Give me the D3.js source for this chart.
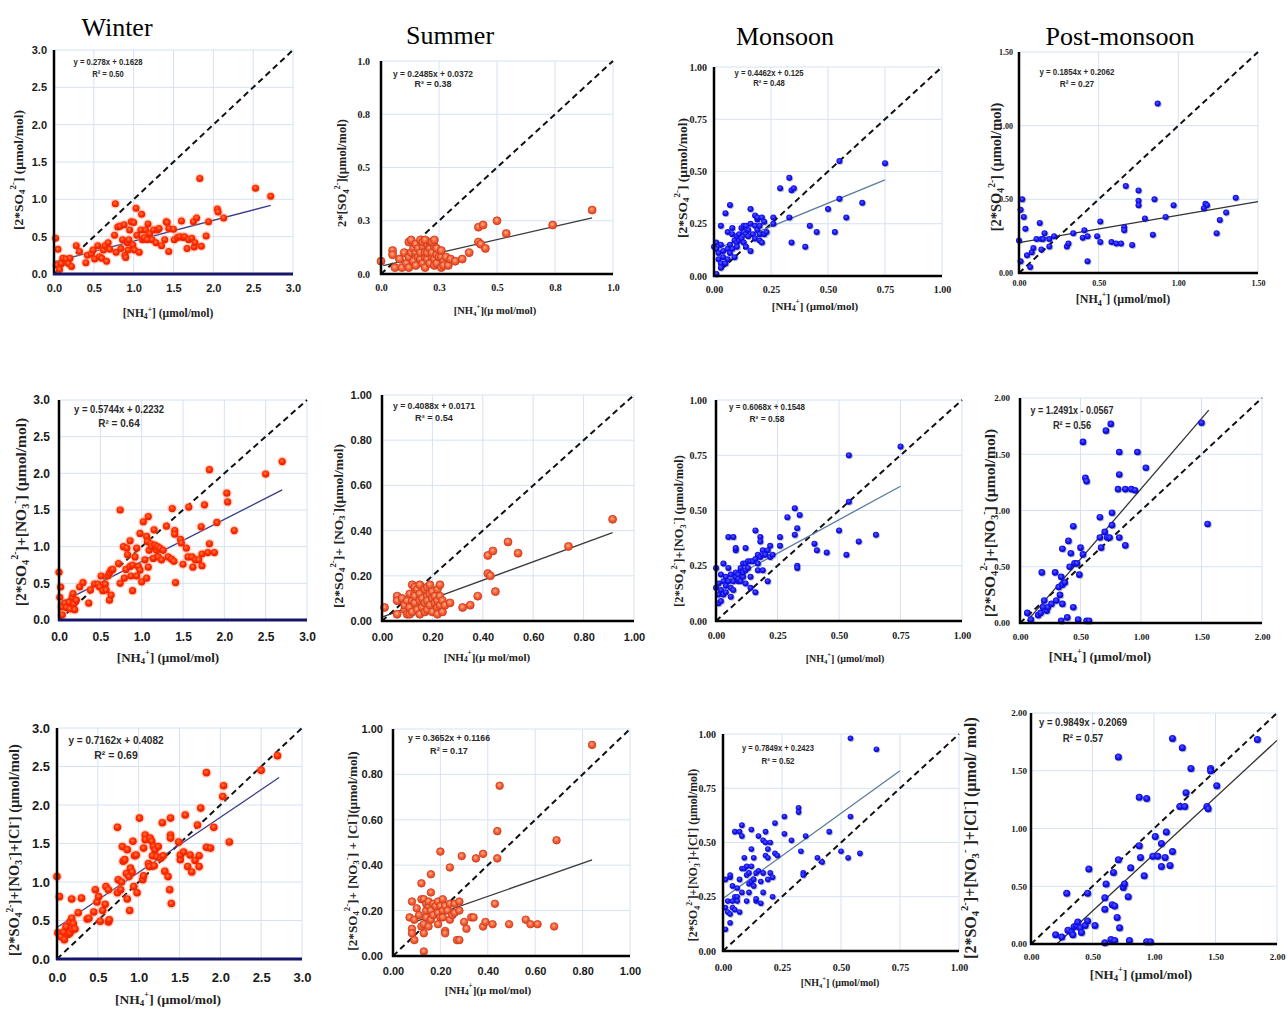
<!DOCTYPE html>
<html>
<head>
<meta charset="utf-8">
<script src="https://cdn.jsdelivr.net/npm/d3@7"></script>
<style>
  body { margin: 0; background: #fff; }
  svg { display: block; }
</style>
</head>
<body>
<div id="chart"></div>
<script>
// ---- data ----
const seasons = ["Winter", "Summer", "Monsoon", "Post-monsoon"];

const winterSO4 = [[0.02,0.48],[0.05,0.33],[0.03,0.12],[0.07,0.06],[0.09,0.14],[0.11,0.21],[0.15,0.2],[0.18,0.14],[0.2,0.21],[0.22,0.1],[0.28,0.38],[0.32,0.3],[0.4,0.15],[0.42,0.25],[0.47,0.27],[0.49,0.32],[0.51,0.2],[0.55,0.38],[0.57,0.23],[0.6,0.21],[0.62,0.32],[0.64,0.38],[0.66,0.17],[0.68,0.42],[0.7,0.33],[0.76,0.52],[0.77,0.94],[0.78,0.29],[0.8,0.63],[0.83,0.64],[0.84,0.34],[0.86,0.46],[0.88,0.66],[0.89,0.25],[0.9,0.22],[0.92,0.42],[0.93,0.32],[0.94,0.46],[0.95,0.59],[0.97,0.7],[0.99,0.39],[1.0,0.69],[1.01,0.32],[1.03,0.88],[1.04,0.52],[1.07,0.29],[1.09,0.59],[1.1,0.8],[1.11,0.46],[1.13,0.49],[1.15,0.59],[1.17,0.46],[1.18,0.67],[1.2,0.54],[1.23,0.46],[1.25,0.59],[1.28,0.42],[1.3,0.59],[1.32,0.61],[1.35,0.38],[1.39,0.46],[1.41,0.7],[1.42,0.69],[1.44,0.61],[1.44,0.3],[1.5,0.6],[1.51,0.46],[1.55,0.49],[1.58,0.5],[1.6,0.71],[1.62,0.49],[1.64,0.5],[1.67,0.34],[1.69,0.46],[1.73,0.48],[1.75,0.7],[1.76,0.36],[1.77,0.42],[1.79,0.75],[1.83,1.28],[1.85,0.37],[1.91,0.51],[1.94,0.7],[2.05,0.87],[2.06,0.83],[2.13,0.75],[2.53,1.15],[2.72,1.04]];

const summerSO4 = [[0.0,0.06],[0.05,0.11],[0.05,0.09],[0.06,0.03],[0.08,0.07],[0.09,0.03],[0.1,0.1],[0.11,0.05],[0.12,0.15],[0.12,0.03],[0.12,0.08],[0.13,0.1],[0.13,0.16],[0.14,0.06],[0.14,0.12],[0.15,0.1],[0.15,0.14],[0.15,0.04],[0.16,0.08],[0.16,0.12],[0.17,0.16],[0.17,0.07],[0.17,0.1],[0.18,0.13],[0.18,0.15],[0.18,0.05],[0.19,0.08],[0.19,0.1],[0.19,0.03],[0.2,0.14],[0.2,0.07],[0.2,0.1],[0.21,0.12],[0.21,0.05],[0.21,0.15],[0.22,0.08],[0.22,0.1],[0.23,0.04],[0.23,0.13],[0.23,0.07],[0.24,0.09],[0.24,0.12],[0.24,0.05],[0.25,0.08],[0.19,0.16],[0.22,0.15],[0.23,0.16],[0.26,0.03],[0.26,0.08],[0.26,0.11],[0.27,0.06],[0.27,0.04],[0.28,0.08],[0.29,0.04],[0.3,0.07],[0.32,0.06],[0.35,0.07],[0.38,0.1],[0.42,0.22],[0.42,0.15],[0.43,0.14],[0.44,0.23],[0.45,0.12],[0.5,0.25],[0.54,0.19],[0.74,0.23],[0.91,0.3]];

const monsoonSO4 = [[0.01,0.01],[0.0,0.14],[0.01,0.16],[0.01,0.13],[0.02,0.11],[0.02,0.08],[0.03,0.06],[0.03,0.04],[0.03,0.24],[0.03,0.15],[0.04,0.09],[0.04,0.12],[0.05,0.06],[0.05,0.3],[0.06,0.13],[0.06,0.21],[0.06,0.08],[0.07,0.11],[0.07,0.34],[0.07,0.15],[0.08,0.2],[0.08,0.13],[0.08,0.23],[0.09,0.17],[0.09,0.09],[0.1,0.16],[0.1,0.19],[0.1,0.14],[0.11,0.2],[0.11,0.17],[0.12,0.23],[0.12,0.18],[0.13,0.21],[0.13,0.16],[0.13,0.24],[0.14,0.2],[0.14,0.14],[0.14,0.24],[0.15,0.19],[0.15,0.22],[0.16,0.12],[0.16,0.32],[0.16,0.25],[0.17,0.2],[0.18,0.24],[0.18,0.29],[0.18,0.18],[0.19,0.27],[0.19,0.22],[0.19,0.28],[0.2,0.2],[0.2,0.17],[0.2,0.24],[0.21,0.16],[0.21,0.28],[0.22,0.2],[0.22,0.26],[0.23,0.21],[0.26,0.25],[0.26,0.28],[0.29,0.42],[0.33,0.47],[0.34,0.41],[0.35,0.42],[0.33,0.28],[0.34,0.16],[0.4,0.14],[0.42,0.24],[0.45,0.21],[0.5,0.32],[0.53,0.21],[0.55,0.37],[0.55,0.55],[0.58,0.28],[0.65,0.35],[0.75,0.54]];

const postSO4 = [[0.0,0.22],[0.01,0.43],[0.02,0.5],[0.03,0.38],[0.01,0.08],[0.04,0.3],[0.05,0.12],[0.07,0.04],[0.08,0.14],[0.09,0.17],[0.11,0.23],[0.13,0.34],[0.14,0.16],[0.14,0.23],[0.15,0.23],[0.16,0.27],[0.19,0.18],[0.19,0.23],[0.22,0.25],[0.3,0.18],[0.31,0.2],[0.34,0.27],[0.4,0.24],[0.41,0.29],[0.43,0.25],[0.43,0.08],[0.49,0.25],[0.51,0.35],[0.51,0.21],[0.58,0.21],[0.61,0.2],[0.64,0.2],[0.66,0.31],[0.66,0.29],[0.67,0.59],[0.71,0.19],[0.75,0.56],[0.75,0.49],[0.75,0.46],[0.79,0.37],[0.84,0.26],[0.85,0.5],[0.87,1.15],[0.92,0.38],[0.97,0.46],[1.16,0.44],[1.17,0.47],[1.18,0.46],[1.24,0.27],[1.26,0.36],[1.3,0.41],[1.36,0.51]];

const winterSN = [[0.0,0.65],[0.02,0.45],[0.01,0.31],[0.03,0.18],[0.04,0.07],[0.07,0.23],[0.09,0.17],[0.12,0.24],[0.13,0.15],[0.16,0.31],[0.17,0.36],[0.18,0.22],[0.19,0.14],[0.21,0.27],[0.25,0.45],[0.29,0.51],[0.36,0.23],[0.38,0.41],[0.43,0.49],[0.47,0.49],[0.49,0.45],[0.51,0.6],[0.53,0.4],[0.56,0.49],[0.57,0.41],[0.59,0.6],[0.61,0.64],[0.61,0.27],[0.63,0.68],[0.63,0.34],[0.65,0.69],[0.72,0.77],[0.74,1.5],[0.74,0.5],[0.78,1.0],[0.79,0.57],[0.81,0.69],[0.82,0.98],[0.83,0.89],[0.86,1.08],[0.86,0.73],[0.87,0.6],[0.89,0.4],[0.89,0.75],[0.92,0.86],[0.94,0.98],[0.94,0.6],[0.96,0.73],[0.98,1.18],[0.98,0.68],[1.0,0.52],[1.02,1.34],[1.04,0.82],[1.06,1.14],[1.06,0.57],[1.07,1.07],[1.08,1.41],[1.08,0.72],[1.09,0.95],[1.11,1.04],[1.12,1.0],[1.14,0.84],[1.15,1.23],[1.16,1.02],[1.18,0.95],[1.19,1.0],[1.2,0.86],[1.22,0.98],[1.24,0.82],[1.26,0.95],[1.3,1.28],[1.32,0.86],[1.36,0.83],[1.37,1.52],[1.39,0.8],[1.4,1.22],[1.4,1.17],[1.41,0.51],[1.47,1.1],[1.48,1.05],[1.5,0.76],[1.54,0.98],[1.56,0.86],[1.57,1.54],[1.61,0.86],[1.62,0.72],[1.65,0.82],[1.69,0.82],[1.72,1.27],[1.73,0.9],[1.73,0.74],[1.76,1.57],[1.8,0.92],[1.82,2.05],[1.82,1.04],[1.88,0.92],[1.91,1.33],[2.03,1.73],[2.04,1.61],[2.12,1.22],[2.5,1.99],[2.7,2.16]];

const summerSN = [[0.01,0.06],[0.06,0.11],[0.06,0.09],[0.06,0.03],[0.08,0.1],[0.09,0.05],[0.09,0.07],[0.1,0.03],[0.1,0.09],[0.11,0.12],[0.11,0.03],[0.11,0.06],[0.12,0.16],[0.12,0.09],[0.12,0.04],[0.13,0.12],[0.13,0.15],[0.13,0.08],[0.13,0.11],[0.14,0.05],[0.14,0.14],[0.15,0.09],[0.15,0.12],[0.15,0.03],[0.15,0.16],[0.16,0.06],[0.16,0.1],[0.17,0.14],[0.17,0.04],[0.17,0.08],[0.18,0.11],[0.18,0.15],[0.18,0.05],[0.18,0.09],[0.19,0.12],[0.19,0.16],[0.19,0.07],[0.2,0.1],[0.2,0.04],[0.2,0.13],[0.21,0.08],[0.21,0.11],[0.22,0.06],[0.22,0.14],[0.22,0.09],[0.22,0.03],[0.23,0.16],[0.23,0.11],[0.23,0.07],[0.24,0.09],[0.24,0.04],[0.25,0.07],[0.27,0.08],[0.32,0.06],[0.35,0.07],[0.38,0.11],[0.42,0.29],[0.42,0.21],[0.43,0.2],[0.44,0.31],[0.45,0.13],[0.5,0.35],[0.54,0.3],[0.74,0.33],[0.915,0.45]];

const monsoonSN = [[0.0,0.24],[0.0,0.15],[0.01,0.12],[0.01,0.08],[0.01,0.17],[0.02,0.21],[0.02,0.09],[0.02,0.14],[0.03,0.26],[0.03,0.18],[0.03,0.12],[0.04,0.16],[0.04,0.2],[0.04,0.13],[0.05,0.38],[0.05,0.24],[0.05,0.18],[0.06,0.11],[0.06,0.15],[0.07,0.38],[0.06,0.21],[0.07,0.14],[0.07,0.18],[0.08,0.32],[0.08,0.33],[0.08,0.2],[0.08,0.22],[0.09,0.18],[0.09,0.21],[0.09,0.19],[0.1,0.23],[0.1,0.18],[0.1,0.24],[0.11,0.2],[0.11,0.26],[0.11,0.22],[0.12,0.26],[0.12,0.33],[0.12,0.23],[0.12,0.17],[0.13,0.27],[0.13,0.24],[0.14,0.2],[0.14,0.27],[0.14,0.15],[0.15,0.27],[0.16,0.13],[0.16,0.41],[0.16,0.28],[0.17,0.23],[0.17,0.26],[0.17,0.3],[0.18,0.38],[0.18,0.36],[0.18,0.29],[0.19,0.32],[0.19,0.23],[0.19,0.3],[0.2,0.3],[0.21,0.18],[0.21,0.32],[0.22,0.34],[0.22,0.29],[0.23,0.3],[0.26,0.38],[0.26,0.34],[0.29,0.47],[0.32,0.51],[0.32,0.39],[0.33,0.42],[0.33,0.25],[0.33,0.24],[0.34,0.48],[0.4,0.35],[0.41,0.32],[0.45,0.31],[0.5,0.41],[0.53,0.3],[0.54,0.75],[0.54,0.54],[0.58,0.36],[0.65,0.39],[0.75,0.79]];

const postSN = [[0.06,0.09],[0.09,0.03],[0.15,0.07],[0.17,0.09],[0.18,0.45],[0.19,0.14],[0.2,0.2],[0.22,0.11],[0.23,0.14],[0.26,0.17],[0.29,0.45],[0.3,0.2],[0.32,0.32],[0.33,0.25],[0.34,0.41],[0.34,0.02],[0.35,0.34],[0.35,0.66],[0.35,0.17],[0.37,0.36],[0.39,0.05],[0.4,0.73],[0.41,0.5],[0.42,0.62],[0.44,0.14],[0.44,0.86],[0.45,0.53],[0.47,0.53],[0.48,0.03],[0.49,0.43],[0.5,0.67],[0.52,0.61],[0.52,1.61],[0.54,1.29],[0.55,1.26],[0.55,0.02],[0.57,0.02],[0.66,0.94],[0.66,0.76],[0.67,0.67],[0.7,0.81],[0.71,1.71],[0.72,0.76],[0.74,0.76],[0.76,0.87],[0.76,0.98],[0.75,1.77],[0.81,1.19],[0.82,1.32],[0.82,1.52],[0.82,0.76],[0.87,0.69],[0.87,1.19],[0.92,1.19],[0.95,1.18],[0.97,1.52],[1.04,1.38],[1.5,1.78],[1.55,0.88]];

const winterSNC = [[0.0,1.07],[0.01,0.34],[0.03,0.81],[0.05,0.29],[0.08,0.35],[0.09,0.25],[0.11,0.42],[0.14,0.32],[0.16,0.48],[0.16,0.34],[0.18,0.78],[0.18,0.53],[0.19,0.38],[0.2,0.46],[0.22,0.39],[0.26,0.6],[0.3,0.79],[0.37,0.52],[0.39,0.53],[0.45,0.61],[0.47,0.9],[0.49,0.74],[0.51,0.81],[0.53,0.49],[0.56,0.63],[0.59,0.71],[0.6,0.94],[0.63,0.9],[0.63,0.48],[0.64,0.51],[0.74,1.71],[0.74,0.86],[0.75,1.03],[0.78,0.9],[0.79,1.0],[0.8,1.46],[0.81,1.27],[0.83,1.29],[0.85,1.11],[0.86,1.42],[0.86,0.78],[0.88,1.07],[0.89,0.63],[0.9,1.18],[0.92,1.13],[0.93,1.53],[0.94,0.94],[0.95,1.34],[0.97,1.35],[0.98,0.86],[1.01,1.83],[1.05,1.03],[1.06,1.44],[1.06,1.08],[1.08,1.61],[1.08,1.55],[1.12,1.24],[1.13,1.2],[1.14,1.57],[1.16,1.53],[1.17,1.34],[1.18,1.46],[1.19,1.21],[1.2,1.42],[1.22,1.33],[1.24,1.46],[1.27,1.31],[1.29,1.77],[1.3,1.34],[1.32,1.14],[1.36,1.07],[1.38,0.9],[1.39,1.83],[1.39,1.61],[1.39,1.57],[1.4,0.72],[1.49,1.52],[1.51,1.29],[1.51,1.35],[1.55,1.39],[1.57,1.87],[1.6,1.2],[1.63,1.35],[1.65,1.13],[1.69,1.28],[1.72,1.74],[1.74,1.2],[1.74,1.34],[1.76,1.96],[1.83,1.45],[1.83,2.42],[1.88,1.44],[1.92,1.71],[2.03,2.11],[2.04,2.25],[2.11,1.52],[2.5,2.45],[2.7,2.64]];

const summerSNC = [[0.07,0.17],[0.08,0.12],[0.08,0.1],[0.08,0.24],[0.09,0.07],[0.09,0.16],[0.1,0.21],[0.11,0.18],[0.12,0.13],[0.12,0.25],[0.12,0.32],[0.13,0.14],[0.13,0.02],[0.13,0.25],[0.13,0.1],[0.14,0.2],[0.14,0.23],[0.14,0.17],[0.15,0.13],[0.15,0.22],[0.15,0.24],[0.16,0.16],[0.16,0.36],[0.16,0.28],[0.16,0.2],[0.17,0.23],[0.17,0.18],[0.18,0.22],[0.19,0.14],[0.19,0.24],[0.19,0.19],[0.2,0.22],[0.2,0.46],[0.2,0.17],[0.21,0.2],[0.21,0.25],[0.21,0.17],[0.22,0.22],[0.22,0.11],[0.22,0.1],[0.23,0.2],[0.24,0.39],[0.24,0.16],[0.24,0.23],[0.25,0.18],[0.26,0.19],[0.26,0.23],[0.27,0.07],[0.28,0.07],[0.28,0.2],[0.28,0.24],[0.29,0.44],[0.3,0.15],[0.31,0.12],[0.33,0.17],[0.34,0.17],[0.35,0.43],[0.38,0.13],[0.38,0.45],[0.39,0.15],[0.42,0.14],[0.43,0.23],[0.44,0.55],[0.44,0.43],[0.45,0.75],[0.49,0.14],[0.56,0.16],[0.58,0.14],[0.61,0.14],[0.68,0.13],[0.69,0.51],[0.84,0.93]];

const monsoonSNC = [[0.01,0.1],[0.01,0.2],[0.01,0.33],[0.02,0.18],[0.02,0.23],[0.03,0.13],[0.03,0.34],[0.03,0.17],[0.03,0.35],[0.04,0.2],[0.04,0.3],[0.04,0.23],[0.05,0.25],[0.05,0.55],[0.05,0.19],[0.06,0.25],[0.06,0.29],[0.06,0.23],[0.07,0.18],[0.07,0.55],[0.07,0.33],[0.08,0.53],[0.08,0.27],[0.08,0.38],[0.08,0.58],[0.09,0.43],[0.09,0.38],[0.1,0.35],[0.1,0.23],[0.1,0.39],[0.11,0.31],[0.11,0.36],[0.11,0.27],[0.12,0.32],[0.12,0.56],[0.12,0.39],[0.12,0.47],[0.13,0.33],[0.13,0.43],[0.13,0.3],[0.14,0.36],[0.14,0.23],[0.14,0.24],[0.15,0.37],[0.15,0.53],[0.16,0.32],[0.16,0.22],[0.17,0.27],[0.17,0.36],[0.17,0.51],[0.18,0.5],[0.18,0.44],[0.18,0.55],[0.19,0.33],[0.19,0.47],[0.19,0.43],[0.2,0.5],[0.2,0.36],[0.21,0.34],[0.21,0.25],[0.22,0.59],[0.22,0.45],[0.23,0.44],[0.26,0.62],[0.26,0.54],[0.29,0.51],[0.32,0.66],[0.32,0.64],[0.33,0.46],[0.34,0.36],[0.34,0.35],[0.35,0.53],[0.4,0.43],[0.42,0.41],[0.45,0.55],[0.5,0.46],[0.53,0.43],[0.54,0.62],[0.54,0.98],[0.58,0.45],[0.65,0.93]];

const postSNC = [[0.2,0.08],[0.25,0.06],[0.3,0.12],[0.29,0.44],[0.33,0.1],[0.34,0.08],[0.35,0.15],[0.37,0.16],[0.38,0.19],[0.4,0.14],[0.41,0.1],[0.44,0.16],[0.46,0.2],[0.46,0.44],[0.47,0.65],[0.52,0.16],[0.6,0.3],[0.6,0.4],[0.6,0.01],[0.61,0.52],[0.65,0.04],[0.66,0.34],[0.67,0.62],[0.68,0.33],[0.68,0.03],[0.7,0.23],[0.71,0.73],[0.71,1.62],[0.72,0.14],[0.75,0.49],[0.76,0.52],[0.79,0.41],[0.8,0.03],[0.81,0.66],[0.88,0.85],[0.88,1.27],[0.89,0.75],[0.92,0.59],[0.94,1.26],[0.94,0.02],[0.97,0.02],[0.99,0.76],[1.01,0.93],[1.03,0.76],[1.06,0.87],[1.06,0.67],[1.09,0.75],[1.1,0.97],[1.13,0.68],[1.15,0.8],[1.15,1.78],[1.21,1.19],[1.23,1.7],[1.25,1.19],[1.26,1.31],[1.3,1.52],[1.43,1.19],[1.44,1.17],[1.46,1.52],[1.46,1.5],[1.51,1.37],[1.84,1.77]];

// regression fits, one per panel (row by row)
const fitSlope     = [0.278, 0.2485, 0.4462, 0.1854, 0.5744, 0.4088, 0.6068, 1.2491, 0.7162, 0.3652, 0.7849, 0.9849];
const fitIntercept = [0.1628, 0.0372, 0.125, 0.2062, 0.2232, 0.0171, 0.1548, -0.0567, 0.4082, 0.1166, 0.2423, -0.2069];
const fitEquation  = ["y = 0.278x + 0.1628", "y = 0.2485x + 0.0372", "y = 0.4462x + 0.125", "y = 0.1854x + 0.2062",
                      "y = 0.5744x + 0.2232", "y = 0.4088x + 0.0171", "y = 0.6068x + 0.1548", "y = 1.2491x - 0.0567",
                      "y = 0.7162x + 0.4082", "y = 0.3652x + 0.1166", "y = 0.7849x + 0.2423", "y = 0.9849x - 0.2069"];
const fitR2        = ["0.50", "0.38", "0.48", "0.27", "0.64", "0.54", "0.58", "0.56", "0.69", "0.17", "0.52", "0.57"];
const fitFrom      = [0, 0.01, 0, 0, 0, 0, 0, 0.06, 0, 0.08, 0, 0.21];
const fitTo        = [2.72, 0.91, 0.75, 1.5, 2.7, 0.915, 0.75, 1.56, 2.72, 0.84, 0.75, 2.0];

// tick values and their printed labels
const ticksThree   = [0, 0.5, 1, 1.5, 2, 2.5, 3];
const labelsThree  = ["0.0", "0.5", "1.0", "1.5", "2.0", "2.5", "3.0"];
const ticksQuarter = [0, 0.25, 0.5, 0.75, 1];
const labelsQuarterShort = ["0.0", "0.3", "0.5", "0.8", "1.0"];
const labelsQuarter = ["0.00", "0.25", "0.50", "0.75", "1.00"];
const ticksFifth   = [0, 0.2, 0.4, 0.6, 0.8, 1];
const labelsFifth  = ["0.00", "0.20", "0.40", "0.60", "0.80", "1.00"];
const ticksHalf15  = [0, 0.5, 1, 1.5];
const labelsHalf15 = ["0.00", "0.50", "1.00", "1.50"];
const ticksHalf2   = [0, 0.5, 1, 1.5, 2];
const labelsHalf2  = ["0.00", "0.50", "1.00", "1.50", "2.00"];

const yTitles = [
  "[2*SO_{4}^{2-}] (µmol/mol)", "2*[SO_{4}^{2-}](µmol/mol)", "[2*SO_{4}^{2-}] (µmol/mol)", "[2*SO_{4}^{2-}] (µmol/mol)",
  "[2*SO_{4}^{2-}]+[NO_{3}^{-}] (µmol/mol)", "[2*SO_{4}^{2-}]+ [NO_{3}^{-}](µmol/mol)", "[2*SO_{4}^{2-}]+[NO_{3}^{-}] (µmol/mol)", "[2*SO_{4}^{2-}]+[NO_{3}^{-}] (µmol/mol)",
  "[2*SO_{4}^{2-}]+[NO_{3}^{-}]+[Cl^{-}] (µmol/mol)", "[2*SO_{4}^{2-}]+ [NO_{3}^{-}] + [Cl^{-}](µmol/mol)", "[2*SO_{4}^{2-}]+[NO_{3}^{-}]+[Cl^{-}] (µmol/mol)", "[2*SO_{4}^{2-}]+[NO_{3}^{-} ]+[Cl^{-}] (µmol/ mol)"
];
const xTitleA = "[NH_{4}^{+}] (µmol/mol)";
const xTitleB = "[NH_{4}^{+}](µ mol/mol)";

// ---- layout ----
const SANS = "'Liberation Sans', Arial, sans-serif";
const SERIF = "'Liberation Serif', 'Times New Roman', serif";

// yt/xt: [centre x, centre y, font size]; eq: [centre x, eq y, R2 y, font size, eq width]
const panels = [
  {data: winterSO4,  max: 3,   tv: ticksThree,   tl: labelsThree,  box: [54, 50, 293, 274],    ff: SANS,  fs: 11, ypad: 7,  xoff: 14, yt: [18, 170, 13.5], xt: [168, 313, 11.5, xTitleA], eq: [108, 62, 74, 8.5, 69], r: 3.5},
  {data: summerSO4,  max: 1,   tv: ticksQuarter, tl: labelsQuarterShort, box: [381, 61, 613, 274], ff: SERIF, fs: 10, ypad: 11, xoff: 13, yt: [342, 173, 12.5], xt: [495, 310, 10.5, xTitleB], eq: [433, 74, 84, 8, 80], r: 4},
  {data: monsoonSO4, max: 1,   tv: ticksQuarter, tl: labelsQuarter, box: [714, 67, 942, 276],  ff: SERIF, fs: 10, ypad: 7,  xoff: 13, yt: [682, 178, 13.5], xt: [815, 306, 11, xTitleA],  eq: [769, 73, 83, 8, 69], r: 3},
  {data: postSO4,    max: 1.5, tv: ticksHalf15,  tl: labelsHalf15, box: [1019, 52, 1258, 273], ff: SERIF, fs: 8,  ypad: 6,  xoff: 10, yt: [996, 167, 14.5], xt: [1123, 299, 12, xTitleA], eq: [1077, 72, 84, 8.5, 75], r: 3},
  {data: winterSN,   max: 3,   tv: ticksThree,   tl: labelsThree,  box: [59, 400, 307, 620],   ff: SANS,  fs: 12, ypad: 9,  xoff: 17, yt: [20, 512, 15.5], xt: [168, 657, 13, xTitleA],  eq: [119, 409, 423, 9.5, 90], r: 3.6},
  {data: summerSN,   max: 1,   tv: ticksFifth,   tl: labelsFifth,  box: [382, 395, 634, 621],  ff: SANS,  fs: 11, ypad: 10, xoff: 16, yt: [338, 526, 13.5], xt: [487, 657, 11, xTitleB],  eq: [434, 406, 418, 8, 82], r: 4},
  {data: monsoonSN,  max: 1,   tv: ticksQuarter, tl: labelsQuarter, box: [716, 400, 962, 621], ff: SERIF, fs: 10, ypad: 9,  xoff: 14, yt: [679, 531, 12.5], xt: [845, 658, 10, xTitleA],  eq: [767, 407, 419, 8, 76], r: 3},
  {data: postSN,     max: 2,   tv: ticksHalf2,   tl: labelsHalf2,  box: [1020, 398, 1262, 623], ff: SERIF, fs: 9,  ypad: 10, xoff: 14, yt: [989, 523, 15.5], xt: [1100, 656, 13, xTitleA], eq: [1072, 410, 425, 11, 83], r: 3.3},
  {data: winterSNC,  max: 3,   tv: ticksThree,   tl: labelsThree,  box: [57, 728, 302, 959],   ff: SANS,  fs: 13, ypad: 7,  xoff: 18, yt: [14, 850, 14.5], xt: [168, 999, 13.5, xTitleA], eq: [116, 740, 755, 11, 95], r: 3.8},
  {data: summerSNC,  max: 1,   tv: ticksFifth,   tl: labelsFifth,  box: [393, 729, 630, 956],  ff: SANS,  fs: 11, ypad: 10, xoff: 15, yt: [352, 851, 13.2], xt: [488, 990, 11, xTitleB],  eq: [449, 738, 751, 8.5, 82], r: 3.8},
  {data: monsoonSNC, max: 1,   tv: ticksQuarter, tl: labelsQuarter, box: [723, 734, 959, 951], ff: SERIF, fs: 10, ypad: 7,  xoff: 16, yt: [693, 855, 11.8], xt: [840, 982, 10, xTitleA],  eq: [778, 748, 761, 8, 72], r: 2.8},
  {data: postSNC,    max: 2,   tv: ticksHalf2,   tl: labelsHalf2,  box: [1031, 713, 1277, 944], ff: SERIF, fs: 9,  ypad: 4,  xoff: 13, yt: [970, 838, 16], xt: [1141, 974, 13, xTitleA], eq: [1083, 722, 738, 11, 88], r: 3.5}
];

const seasonTitlePos = [[117, 27], [450, 35], [785, 36], [1120, 36]];

// per-season look (column)
const seasonStyle = [
  {dot: "url(#gWinter)", halo: "#ff8a5c", stroke: "none", fit: "#3b3b8c", xAxis: "#15156a", xw: 3},
  {dot: "url(#gSummer)", halo: null, stroke: "#cf3a1c", fit: "#3a3a3a", xAxis: "#000", xw: 2.5},
  {dot: "url(#gBlue)", halo: null, stroke: "none", fit: "#5a7d9e", xAxis: "#000", xw: 2.5},
  {dot: "url(#gBlue)", halo: null, stroke: "none", fit: "#333", xAxis: "#000", xw: 2.5}
];

const svg = d3.select("#chart").append("svg")
    .attr("width", 1287)
    .attr("height", 1009);

const defs = svg.append("defs");
function radial(id, stops) {
    const g = defs.append("radialGradient").attr("id", id).attr("cx", "45%").attr("cy", "40%").attr("r", "60%");
    stops.forEach(s => g.append("stop").attr("offset", s[0]).attr("stop-color", s[1]));
}
radial("gWinter", [["0%", "#ff7a45"], ["55%", "#ff2a00"], ["100%", "#e81e00"]]);
radial("gSummer", [["0%", "#ffb08a"], ["50%", "#f5633a"], ["100%", "#e0451f"]]);
radial("gBlue", [["0%", "#5a5aff"], ["60%", "#1212f0"], ["100%", "#0606c8"]]);
defs.append("filter").attr("id", "shadow").attr("x", "-50%").attr("y", "-50%").attr("width", "200%").attr("height", "200%")
    .append("feDropShadow").attr("dx", 0.8).attr("dy", 0.8).attr("stdDeviation", 0.7)
    .attr("flood-color", "#000").attr("flood-opacity", 0.35);

// text with sub/superscripts written as _{..} and ^{..}
function richText(sel, str, fs) {
    const parts = str.split(/(_\{[^}]*\}|\^\{[^}]*\})/).filter(s => s.length);
    let shift = 0;
    parts.forEach(p => {
        let t = p, target = 0, size = fs;
        if (p.startsWith("_{")) { t = p.slice(2, -1); target = fs * 0.3; size = fs * 0.66; }
        else if (p.startsWith("^{")) { t = p.slice(2, -1); target = -fs * 0.38; size = fs * 0.66; }
        sel.append("tspan").attr("dy", target - shift).style("font-size", size + "px").text(t);
        shift = target;
    });
}

panels.forEach(function (p, i) {
    const st = seasonStyle[i % 4];
    const [x0, y0, x1, y1] = p.box;
    const x = d3.scaleLinear().domain([0, p.max]).range([x0, x1]);
    const y = d3.scaleLinear().domain([0, p.max]).range([y1, y0]);
    const g = svg.append("g");

    // gridlines
    g.append("g").selectAll("line").data(p.tv.slice(1)).join("line")
        .attr("x1", d => x(d)).attr("x2", d => x(d))
        .attr("y1", y0).attr("y2", y1)
        .attr("stroke", "#d5e2f2").attr("stroke-width", 1);
    g.append("g").selectAll("line").data(p.tv.slice(1)).join("line")
        .attr("x1", x0).attr("x2", x1)
        .attr("y1", d => y(d)).attr("y2", d => y(d))
        .attr("stroke", "#d5e2f2").attr("stroke-width", 1);

    // tick labels
    const ya = g.append("g")
        .attr("transform", "translate(" + x0 + ",0)")
        .call(d3.axisLeft(y).tickValues(p.tv).tickFormat((d, j) => p.tl[j]).tickSize(0).tickPadding(p.ypad));
    ya.select(".domain").remove();
    ya.attr("font-family", p.ff).attr("font-size", p.fs).attr("font-weight", "bold");

    const xa = g.append("g")
        .attr("transform", "translate(0," + y1 + ")")
        .call(d3.axisBottom(x).tickValues(p.tv).tickFormat((d, j) => p.tl[j]).tickSize(0).tickPadding(p.xoff - 0.36 * p.fs));
    xa.select(".domain").remove();
    xa.attr("font-family", p.ff).attr("font-size", p.fs).attr("font-weight", "bold");
    ya.selectAll("text").attr("fill", "#1a1a1a");
    xa.selectAll("text").attr("fill", "#1a1a1a");

    // 1:1 line
    g.append("line")
        .attr("x1", x(0)).attr("y1", y(0))
        .attr("x2", x(p.max)).attr("y2", y(p.max))
        .attr("stroke", "#111").attr("stroke-width", 2)
        .attr("stroke-dasharray", "6,4");

    // regression line
    g.append("line")
        .attr("x1", x(fitFrom[i])).attr("y1", y(fitSlope[i] * fitFrom[i] + fitIntercept[i]))
        .attr("x2", x(fitTo[i])).attr("y2", y(fitSlope[i] * fitTo[i] + fitIntercept[i]))
        .attr("stroke", st.fit).attr("stroke-width", 1.3);

    // points
    if (st.halo) {
        g.append("g").selectAll("circle").data(p.data).join("circle")
            .attr("cx", d => x(d[0])).attr("cy", d => y(d[1]))
            .attr("r", p.r + 1.4)
            .attr("fill", st.halo).attr("opacity", 0.35);
    }
    g.append("g")
        .attr("filter", i % 4 >= 2 ? "url(#shadow)" : null)
        .selectAll("circle").data(p.data).join("circle")
        .attr("cx", d => x(d[0])).attr("cy", d => y(d[1]))
        .attr("r", p.r)
        .attr("fill", st.dot)
        .attr("stroke", st.stroke).attr("stroke-width", 0.8);

    // axis lines
    g.append("line")
        .attr("x1", x0).attr("x2", x0).attr("y1", y0).attr("y2", y1 + 1)
        .attr("stroke", "#000").attr("stroke-width", 2.5);
    g.append("line")
        .attr("x1", x0 - 1).attr("x2", x1).attr("y1", y1).attr("y2", y1)
        .attr("stroke", st.xAxis).attr("stroke-width", st.xw);

    // equation
    g.append("text")
        .attr("x", p.eq[0]).attr("y", p.eq[1])
        .attr("text-anchor", "middle").attr("dominant-baseline", "central")
        .attr("font-family", SANS).attr("font-size", p.eq[3] + 0.5).attr("font-weight", "bold")
        .attr("fill", "#2a2a2a")
        .attr("textLength", p.eq[4]).attr("lengthAdjust", "spacingAndGlyphs")
        .text(fitEquation[i]);
    g.append("text")
        .attr("x", p.eq[0]).attr("y", p.eq[2])
        .attr("text-anchor", "middle").attr("dominant-baseline", "central")
        .attr("font-family", SANS).attr("font-size", p.eq[3] + 0.5).attr("font-weight", "bold")
        .attr("fill", "#2a2a2a")
        .attr("textLength", p.eq[4] * 0.46).attr("lengthAdjust", "spacingAndGlyphs")
        .text("R² = " + fitR2[i]);

    // axis titles
    const yt = g.append("text")
        .attr("transform", "translate(" + p.yt[0] + "," + p.yt[1] + ") rotate(-90)")
        .attr("text-anchor", "middle").attr("dominant-baseline", "central")
        .attr("font-family", SERIF).attr("font-weight", "bold").attr("fill", "#222");
    richText(yt, yTitles[i], p.yt[2]);

    const xt = g.append("text")
        .attr("x", p.xt[0]).attr("y", p.xt[1])
        .attr("text-anchor", "middle").attr("dominant-baseline", "central")
        .attr("font-family", SERIF).attr("font-weight", "bold").attr("fill", "#222");
    richText(xt, p.xt[3], p.xt[2]);
});

// season titles
svg.append("g").selectAll("text").data(seasons).join("text")
    .attr("x", (d, i) => seasonTitlePos[i][0])
    .attr("y", (d, i) => seasonTitlePos[i][1])
    .attr("text-anchor", "middle").attr("dominant-baseline", "central")
    .attr("font-family", SERIF).attr("font-size", 26)
    .attr("fill", "#000")
    .text(d => d);
</script>
</body>
</html>
